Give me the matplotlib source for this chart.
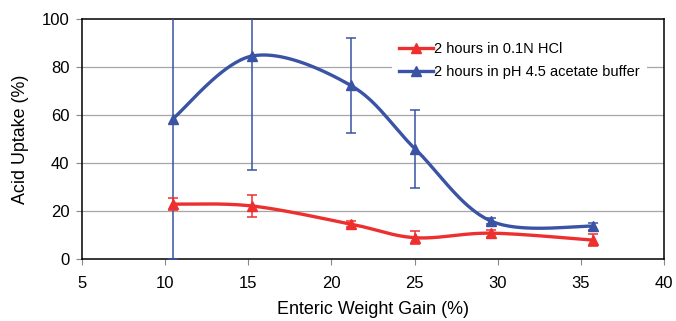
import numpy as np
import matplotlib
matplotlib.use("Agg")
import matplotlib.pyplot as plt
from matplotlib.lines import Line2D

plt.rcParams['font.family'] = ['Liberation Sans', 'DejaVu Sans']

# Data
weight_gain_hcl = [10.45, 15.24, 21.15, 25.04, 29.6, 35.73]
uptake_hcl = [23.0, 22.2, 14.7, 9.0, 10.9, 8.0]
err_hcl = [2.6, 4.4, 1.2, 2.8, 1.5, 2.5]

weight_gain_buf = [10.45, 15.24, 21.15, 25.04, 29.6, 35.73]
uptake_buf = [58.4, 84.6, 72.4, 45.9, 15.9, 13.8]
err_buf = [58.4, 47.6, 19.8, 16.1, 1.2, 1.5]

labels = ["2 hours in 0.1N HCl", "2 hours in pH 4.5 acetate buffer"]
xticks = [5, 10, 15, 20, 25, 30, 35, 40]
yticks = [0, 20, 40, 60, 80, 100]

RED = '#ee2f2f'
BLUE = '#3a53a4'


def smooth(x, y, n=40):
    """Excel-style smoothing: Catmull-Rom converted to cubic Bezier."""
    P = np.column_stack([x, y]).astype(float)
    m = len(P)
    out = []
    t = np.linspace(0, 1, n)[:, None]
    for i in range(m - 1):
        p0 = P[max(i - 1, 0)]
        p1 = P[i]
        p2 = P[i + 1]
        p3 = P[min(i + 2, m - 1)]
        c1 = p1 + (p2 - p0) / 6.0
        c2 = p2 - (p3 - p1) / 6.0
        seg = ((1 - t) ** 3) * p1 + 3 * ((1 - t) ** 2) * t * c1 + 3 * (1 - t) * t ** 2 * c2 + t ** 3 * p2
        out.append(seg if i == 0 else seg[1:])
    s = np.vstack(out)
    return s[:, 0], s[:, 1]


fig = plt.figure(figsize=(6.76, 3.21), dpi=100)
ax = fig.add_axes([0.1213, 0.192, 0.861, 0.749])

for yv in yticks[1:-1]:
    ax.axhline(yv, color='#a6a6a6', lw=0.9, zorder=0)

for xs, ys, es, col in [(weight_gain_buf, uptake_buf, err_buf, BLUE),
                        (weight_gain_hcl, uptake_hcl, err_hcl, RED)]:
    sx, sy = smooth(xs, ys)
    ax.plot(sx, sy, color=col, lw=2.4, zorder=3, solid_capstyle='round')
    ax.errorbar(xs, ys, yerr=es, fmt='none', ecolor=col, elinewidth=1.1,
                capsize=3.5, capthick=1.1, zorder=4)
    ax.plot(xs, ys, linestyle='none', marker='^', ms=7, color=col, zorder=5)

ax.set_xlim(5, 40)
ax.set_ylim(0, 100)
ax.set_xticks(xticks)
ax.set_yticks(yticks)
ax.tick_params(axis='both', direction='out', length=4, width=0.8,
               labelsize=12, colors='black')
ax.tick_params(axis='x', pad=8, color='#888888', labelcolor='black')
ax.tick_params(axis='y', pad=5, color='#888888', labelcolor='black')
for sp in ax.spines.values():
    sp.set_linewidth(1.1)
    sp.set_color('black')

ax.set_xlabel("Enteric Weight Gain (%)", fontsize=12.9, labelpad=7)
ax.set_ylabel("Acid Uptake (%)", fontsize=12.9, labelpad=9)

handles = [Line2D([], [], color=RED, lw=2.4, marker='^', ms=7),
           Line2D([], [], color=BLUE, lw=2.4, marker='^', ms=7)]
leg = ax.legend(handles, labels, loc='upper left', bbox_to_anchor=(0.52, 0.965),
                frameon=True, fontsize=10.5, handlelength=2.3, handletextpad=0.1,
                borderpad=0.5, labelspacing=0.6, fancybox=False)
leg.get_frame().set_edgecolor('none')
leg.get_frame().set_facecolor('white')
leg.get_frame().set_alpha(1)
leg.set_zorder(6)

fig.savefig("out.png", dpi=100)
